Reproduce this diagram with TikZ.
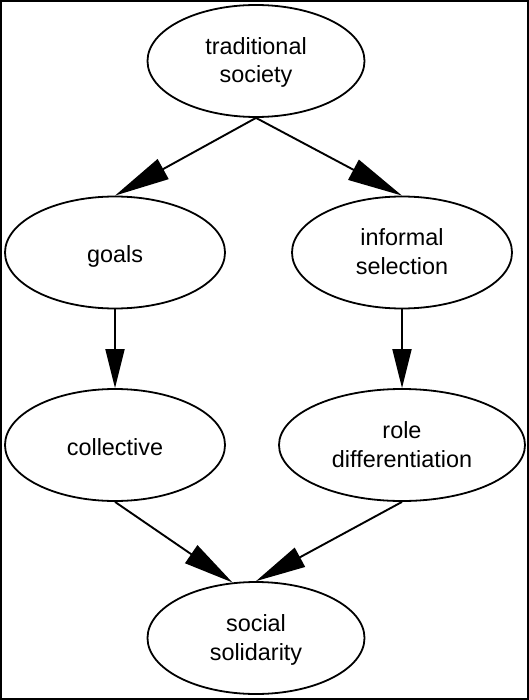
\documentclass[tikz,border=0pt]{standalone}
\usepackage{fontspec}
\setmainfont{Liberation Sans}
\usetikzlibrary{arrows.meta,shapes.geometric}
% two centred lines whose baseline is the first line
\newcommand\stacked[2]{\begin{tabular}[t]{@{}c@{}}#1\\#2\end{tabular}}
\begin{document}
\begin{tikzpicture}[x=1pt,y=-1pt,
  concept/.style={ellipse,draw,line width=1.8pt,minimum width=220pt,
    minimum height=112pt,inner sep=0pt,
    font=\fontsize{23.4}{28.5}\selectfont},
  oneline/.style={concept,text height=24pt,text depth=4pt},
  twoline/.style={concept,text height=17pt,text depth=30pt},
  link/.style={line width=1.9pt},
  longhead/.style={link,-{Triangle[length=55pt,width=22.5pt]}},
  shorthead/.style={link,-{Triangle[length=39pt,width=19pt]}},
  midhead/.style={link,-{Triangle[length=50pt,width=21.5pt]}}]
  % page and frame
  \useasboundingbox (0,0) rectangle (529,700);
  \draw[line width=2pt,fill=white] (1,1) rectangle (528,699);

  % concepts
  \node[twoline,minimum width=217pt] (ts) at (256,61) {\stacked{traditional}{society}};
  \node[oneline] (goals) at (115,252.5) {goals};
  \node[twoline] (inf) at (402,252.5) {\stacked{informal}{selection}};
  \node[oneline] (coll) at (115,445) {collective};
  \node[twoline,minimum width=246pt] (role) at (402,445) {\stacked{role}{differentiation}};
  \node[twoline,minimum width=217pt] (ss) at (256,638) {\stacked{social}{solidarity}};

  % links
  \draw[longhead] (ts.south) -- (goals.north);
  \draw[longhead] (ts.south) -- (inf.north);
  \draw[shorthead] (goals.south) -- (coll.north);
  \draw[shorthead] (inf.south) -- (role.north);
  \draw[midhead] (coll.south) -- (ss.113);
  \draw[midhead] (role.south) -- (ss.north);
\end{tikzpicture}
\end{document}
